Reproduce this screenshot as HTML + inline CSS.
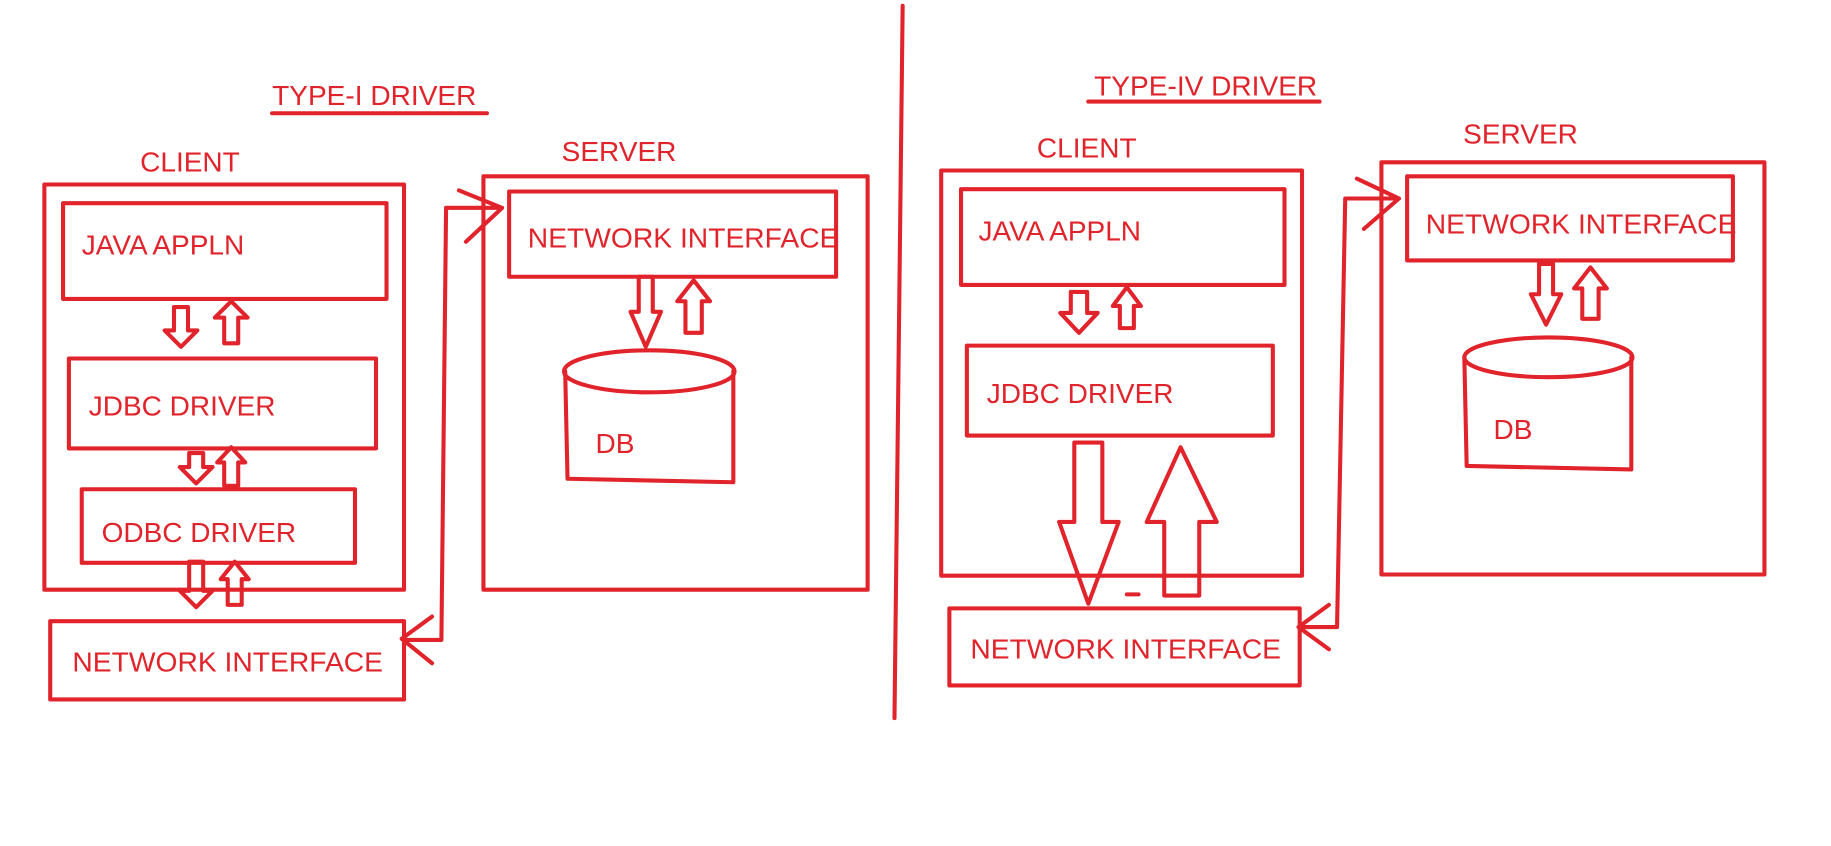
<!DOCTYPE html>
<html><head><meta charset="utf-8"><style>html,body{margin:0;padding:0;background:#fff;}svg{display:block}</style></head>
<body>
<svg width="1831" height="846" viewBox="0 0 1568 724.5" preserveAspectRatio="none" xmlns="http://www.w3.org/2000/svg">
<g fill="none" stroke="#e1242b" stroke-width="3.5" stroke-linejoin="round" stroke-linecap="round">
<line x1="233" y1="97" x2="417" y2="97"/>
<rect x="38" y="158" width="308" height="347"/>
<rect x="54" y="174" width="277" height="82"/>
<rect x="59" y="307" width="263" height="77"/>
<rect x="70" y="419" width="234" height="63"/>
<rect x="43" y="532" width="303" height="67"/>
<rect x="414" y="151" width="329" height="354"/>
<rect x="436" y="164" width="280" height="73"/>
<path d="M346 548 L378 548 L382 178 L430 178 M393 163 L430 178 L399 207 M370 528 L344 547 L370 568"/>
<ellipse cx="556" cy="318" rx="73" ry="18"/>
<path d="M484 318 L486 410 L628 413 L628 318"/>
<path d="M149 263 L161 263 L161 283 L169 283 L155 297 L141 283 L149 283Z"/>
<path d="M162 388 L174 388 L174 400 L182 400 L168 414 L154 400 L162 400Z"/>
<path d="M162 481 L174 481 L174 506 L182 506 L168 520 L154 506 L162 506Z"/>
<path d="M547 237 L559 237 L559 267 L566 267 L553 297 L540 267 L547 267Z"/>
<path d="M198 258 L212 272 L204 272 L204 294 L192 294 L192 272 L184 272Z"/>
<path d="M198 383 L210 396 L204 396 L204 416 L192 416 L192 396 L186 396Z"/>
<path d="M201 481 L213 496 L207 496 L207 518 L195 518 L195 496 L189 496Z"/>
<path d="M594 240 L608 258 L601 258 L601 285 L587 285 L587 258 L580 258Z"/>
<line x1="773" y1="5" x2="766" y2="615"/>
<line x1="932" y1="87" x2="1130" y2="87"/>
<rect x="806" y="146" width="309" height="347"/>
<rect x="823" y="162" width="277" height="82"/>
<rect x="828" y="296" width="262" height="77"/>
<rect x="813" y="521" width="300" height="66"/>
<rect x="1183" y="139" width="328" height="353"/>
<rect x="1205" y="151" width="279" height="72"/>
<path d="M1113 537 L1145 537 L1152 170 L1198 170 M1162 153 L1198 170 L1168 196 M1138 518 L1112 537 L1138 556"/>
<ellipse cx="1326" cy="306" rx="72" ry="17"/>
<path d="M1254 306 L1256 399 L1397 402 L1397 306"/>
<path d="M917 250 L931 250 L931 268 L940 268 L924 285 L908 268 L917 268Z"/>
<path d="M1318 226 L1330 226 L1330 252 L1337 252 L1324 278 L1311 252 L1318 252Z"/>
<path d="M965 246 L977 262 L971 262 L971 281 L959 281 L959 262 L953 262Z"/>
<path d="M1362 229 L1376 247 L1369 247 L1369 273 L1355 273 L1355 247 L1348 247Z"/>
<path d="M920 379 L944 379 L944 447 L958 447 L932 517 L907 447 L920 447Z"/>
<path d="M1011 383 L1042 447 L1027 447 L1027 510 L997 510 L997 447 L982 447Z"/>
<line x1="965" y1="509" x2="975" y2="509"/>
</g>
<g fill="#e1242b" font-family="Liberation Sans, sans-serif" font-size="24">
<text x="233" y="90" textLength="175" lengthAdjust="spacingAndGlyphs">TYPE-I DRIVER</text>
<text x="120" y="147">CLIENT</text>
<text x="70" y="218">JAVA APPLN</text>
<text x="76" y="356">JDBC DRIVER</text>
<text x="87" y="464">ODBC DRIVER</text>
<text x="62" y="575" textLength="266" lengthAdjust="spacingAndGlyphs">NETWORK INTERFACE</text>
<text x="481" y="138">SERVER</text>
<text x="452" y="212" textLength="266" lengthAdjust="spacingAndGlyphs">NETWORK INTERFACE</text>
<text x="510" y="388">DB</text>
<text x="937" y="82" textLength="191" lengthAdjust="spacingAndGlyphs">TYPE-IV DRIVER</text>
<text x="888" y="135">CLIENT</text>
<text x="838" y="206">JAVA APPLN</text>
<text x="845" y="345">JDBC DRIVER</text>
<text x="831" y="564" textLength="266" lengthAdjust="spacingAndGlyphs">NETWORK INTERFACE</text>
<text x="1253" y="123">SERVER</text>
<text x="1221" y="200" textLength="266" lengthAdjust="spacingAndGlyphs">NETWORK INTERFACE</text>
<text x="1279" y="376">DB</text>
</g>
</svg>
</body></html>
